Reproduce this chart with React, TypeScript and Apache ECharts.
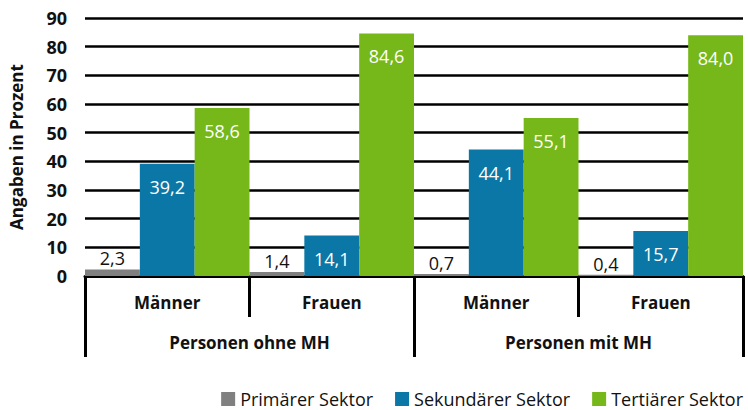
import React, { useEffect, useRef } from "react";
import * as echarts from "echarts";

const categories = ["Männer", "Frauen", "Männer", "Frauen"];
const groups = ["Personen ohne MH", "Personen mit MH"];
const primaer = [2.3, 1.4, 0.7, 0.4];
const sekundaer = [39.2, 14.1, 44.1, 15.7];
const tertiaer = [58.6, 84.6, 55.1, 84.0];
const seriesNames = ["Primärer Sektor", "Sekundärer Sektor", "Tertiärer Sektor"];
const colors = ["#808080", "#0a77a6", "#76b81a"];

const FONT = "'Open Sans', 'Noto Sans', sans-serif";
const fmt = (p: any) => Number(p.value).toFixed(1).replace(".", ",");

export default function App() {
  const ref = useRef<HTMLDivElement>(null);
  useEffect(() => {
    if (!ref.current) return;
    const chart = echarts.init(ref.current, null, { renderer: "svg" });
    const mk = (name: string, data: number[], color: string, inside: boolean) => ({
      name,
      type: "bar",
      xAxisIndex: 0,
      data,
      barGap: "0%",
      barCategoryGap: "0%",
      itemStyle: { color },
      label: {
        show: true,
        position: inside ? "insideTop" : "top",
        distance: inside ? 14 : 2,
        color: inside ? "#ffffff" : "#111111",
        fontSize: 18,
        fontFamily: FONT,
        formatter: fmt,
      },
    });
    const xLabel = { interval: 0, margin: 18, fontSize: 17, fontWeight: "bold", color: "#111", fontFamily: FONT };
    chart.setOption({
      animation: false,
      textStyle: { fontFamily: FONT },
      grid: { left: 83, right: 5, top: 18, bottom: 134, containLabel: false },
      legend: {
        data: seriesNames,
        right: 0,
        top: 385,
        padding: [5, 5, 0, 5],
        itemWidth: 14,
        itemHeight: 14,
        itemGap: 22,
        icon: "rect",
        textStyle: { fontSize: 18, lineHeight: 18, color: "#111111", fontFamily: FONT },
      },
      xAxis: [
        {
          type: "category",
          data: categories,
          position: "bottom",
          axisLine: { show: true, lineStyle: { color: "#000", width: 3 } },
          axisTick: { show: true, interval: 0, length: 41, lineStyle: { color: "#000", width: 3 } },
          axisLabel: xLabel,
        },
        {
          type: "category",
          data: groups,
          position: "bottom",
          offset: 40,
          axisLine: { show: false },
          axisTick: { show: true, interval: 0, length: 41, lineStyle: { color: "#000", width: 3 } },
          axisLabel: xLabel,
        },
      ],
      yAxis: {
        type: "value",
        min: 0,
        max: 90,
        interval: 10,
        name: "Angaben in Prozent",
        nameLocation: "middle",
        nameGap: 60,
        nameTextStyle: { fontSize: 17, fontWeight: "bold", color: "#111", fontFamily: FONT },
        axisLine: { show: false },
        axisTick: { show: false },
        axisLabel: { margin: 18, fontSize: 18, fontWeight: "bold", color: "#111", fontFamily: FONT },
        splitLine: { show: true, lineStyle: { color: "#000", width: 2.5 } },
      },
      series: [
        mk(seriesNames[0], primaer, colors[0], false),
        mk(seriesNames[1], sekundaer, colors[1], true),
        mk(seriesNames[2], tertiaer, colors[2], true),
      ],
    });
    return () => chart.dispose();
  }, []);
  return <div ref={ref} style={{ width: 748, height: 410, position: "fixed", left: 0, top: 0, background: "#fff" }} />;
}
